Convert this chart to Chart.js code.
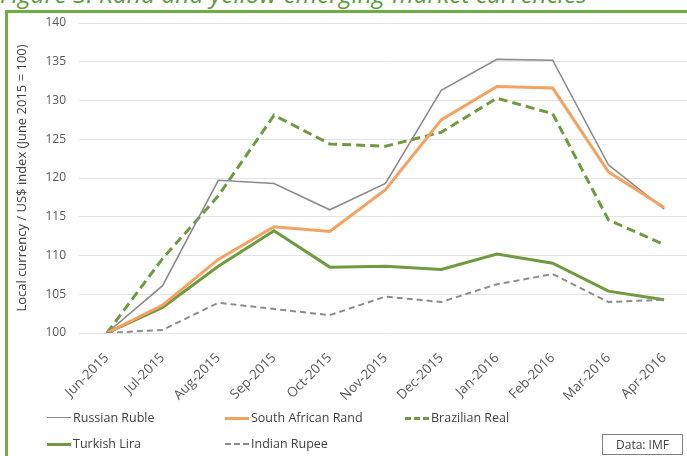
<!DOCTYPE html>
<html>
<head>
<meta charset="utf-8">
<script src="https://cdn.jsdelivr.net/npm/chart.js@4"></script>
<style>
  html,body{margin:0;padding:0;background:#fff;overflow:hidden;width:687px;height:456px;}
  #wrap{position:relative;width:687px;height:456px;font-family:"Open Sans",sans-serif;}
  #title{position:absolute;left:0;top:-18px;font-size:24.5px;line-height:24px;font-style:italic;color:#5e9a3c;white-space:nowrap;}
  #frame{position:absolute;left:5px;top:10px;width:690px;height:460px;border-left:3px solid #70ad47;border-top:3px solid #70ad47;}
  #chart{position:absolute;left:0;top:0;}
  .lg{position:absolute;font-size:12.5px;color:#404040;height:16px;line-height:16px;white-space:nowrap;}
  .lg i{position:absolute;top:8px;display:block;height:0;}
  #src{position:absolute;left:602px;top:434px;width:79px;height:19px;border:1px solid #7f7f7f;font-size:12px;color:#404040;line-height:19px;text-align:center;}
</style>
</head>
<body>
<div id="wrap">
  <div id="title">Figure 3: Rand and yellow emerging-market currencies</div>
  <div id="frame"></div>
  <canvas id="chart" width="695" height="456"></canvas>
  <div id="legend"></div>
  <div id="src">Data: IMF</div>
</div>
<script>
const months = ['Jun-2015','Jul-2015','Aug-2015','Sep-2015','Oct-2015','Nov-2015','Dec-2015','Jan-2016','Feb-2016','Mar-2016','Apr-2016'];
const yTicks = [100,105,110,115,120,125,130,135,140];

const russianRuble     = [100, 106.1, 119.7, 119.3, 115.9, 119.3, 131.3, 135.3, 135.2, 121.7, 116.0];
const southAfricanRand = [100, 103.6, 109.5, 113.7, 113.1, 118.5, 127.5, 131.8, 131.6, 120.8, 116.2];
const brazilianReal    = [100, 109.6, 117.7, 128.1, 124.4, 124.1, 125.9, 130.3, 128.3, 114.6, 111.4];
const turkishLira      = [100, 103.3, 108.6, 113.2, 108.5, 108.6, 108.2, 110.2, 109.0, 105.4, 104.3];
const indianRupee      = [100, 100.4, 103.9, 103.1, 102.3, 104.7, 104.0, 106.3, 107.6, 104.0, 104.3];

const series = [
  { label:'Russian Ruble',      data:russianRuble,     color:'#8c8c8c', width:1.6, dash:[],    lx:47,  ly:410 },
  { label:'South African Rand', data:southAfricanRand, color:'#f4a261', width:3,   dash:[],    lx:225, ly:410 },
  { label:'Brazilian Real',     data:brazilianReal,    color:'#6f9a40', width:3,   dash:[9,5], lx:405, ly:410 },
  { label:'Turkish Lira',       data:turkishLira,      color:'#6f9a40', width:3,   dash:[],    lx:47,  ly:436 },
  { label:'Indian Rupee',       data:indianRupee,      color:'#8c8c8c', width:2,   dash:[6,4], lx:225, ly:436 },
];

// draw order: thin lines on top like the original
const order = [3,1,4,2,0];

const chart = new Chart(document.getElementById('chart'), {
  type:'line',
  data:{
    labels: months,
    datasets: series.map((s,i)=>({
      label:s.label, data:s.data, borderColor:s.color, borderWidth:s.width, borderDash:s.dash,
      pointRadius:0, tension:0, fill:false, order:order[i]
    }))
  },
  options:{
    responsive:false, animation:false,
    layout:{ padding:{ left:14, top:23, right:3, bottom:0 } },
    plugins:{ legend:{ display:false }, tooltip:{ enabled:false } },
    scales:{
      x:{
        offset:true,
        grid:{ display:false, drawTicks:false },
        border:{ display:false },
        ticks:{ color:'#595959', font:{ family:'Open Sans', size:13.5 }, minRotation:45, maxRotation:45, padding:17 },
        afterFit: s => { s.height = 123; }
      },
      y:{
        min:100, max:140,
        afterBuildTicks: s => { s.ticks = yTicks.map(v=>({ value:v })); },
        grid:{ color:'#e3e3e3', lineWidth:1, drawTicks:false },
        border:{ display:false },
        ticks:{ color:'#595959', font:{ family:'Open Sans', size:12 }, padding:13 },
        title:{ display:true, text:'Local currency / US$ index (June 2015 = 100)', color:'#404040', font:{ family:'Open Sans', size:13 }, padding:{ top:0, bottom:2 } },
        afterFit: s => { s.width = 65; }
      }
    }
  }
});

const legend = document.getElementById('legend');
series.forEach(s=>{
  const el = document.createElement('div');
  el.className = 'lg';
  el.style.left = s.lx + 'px';
  el.style.top = s.ly + 'px';
  el.style.paddingLeft = '26px';
  const line = document.createElement('i');
  line.style.left = '0px';
  line.style.width = '24px';
  line.style.marginTop = (-s.width/2) + 'px';
  line.style.borderTop = s.width + 'px ' + (s.dash.length ? 'dashed ' : 'solid ') + s.color;
  el.appendChild(line);
  el.appendChild(document.createTextNode(s.label));
  legend.appendChild(el);
});
</script>
</body>
</html>
